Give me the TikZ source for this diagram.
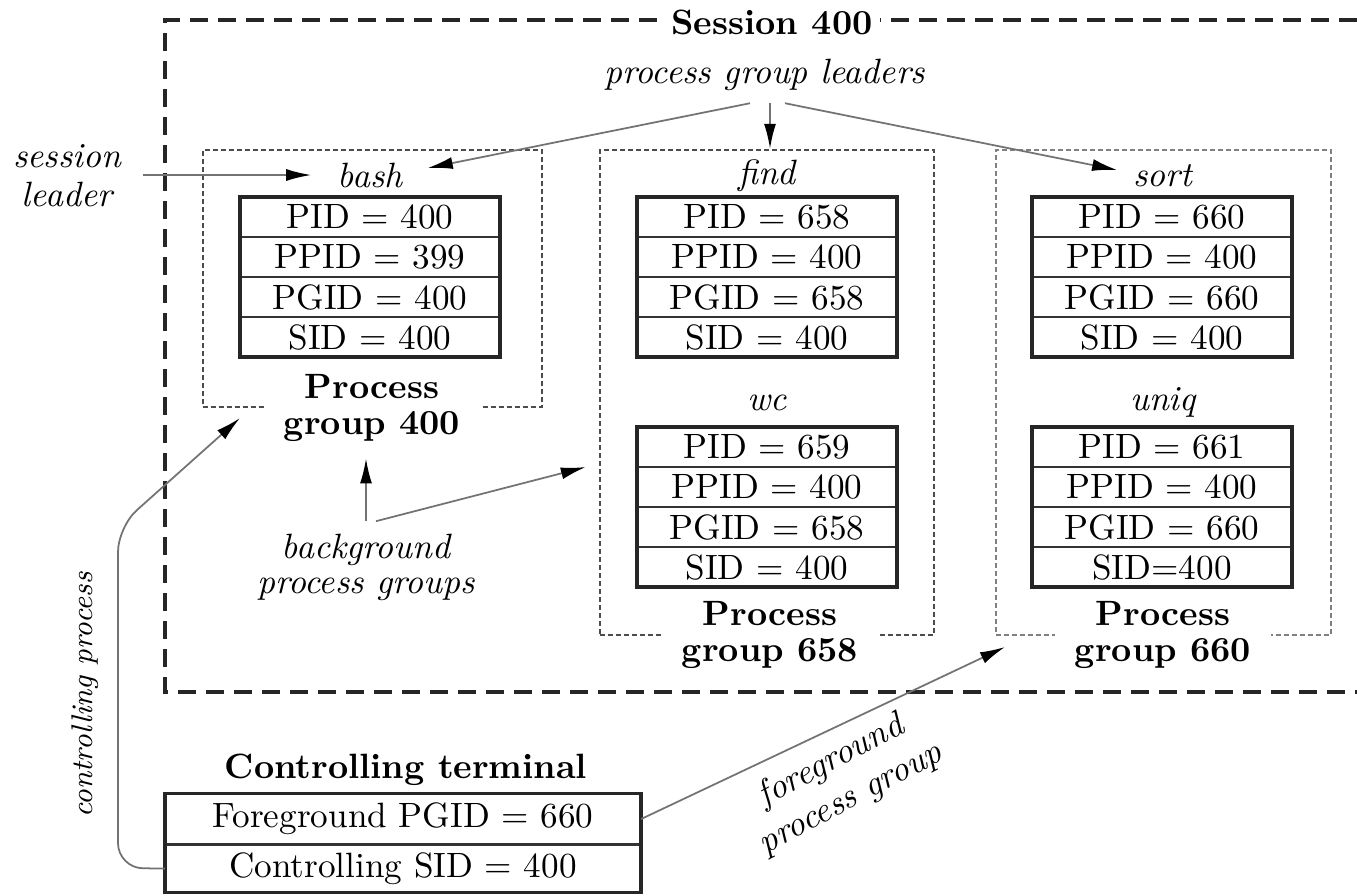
\documentclass[tikz,border=0pt]{standalone}
\usetikzlibrary{positioning,arrows.meta}

\begin{document}
\begin{tikzpicture}[x=0.01cm,y=-0.01cm,
	row/.style={draw=black!80,line width=0.8pt,minimum width=2.6cm,minimum height=0.4cm,inner sep=0pt,outer sep=0pt},
	frame/.style={draw=black!85,line width=1pt},
	group/.style={draw=black!70,line width=0.6pt,dash pattern=on 0.05cm off 0.03cm},
	grouplabel/.style={fill=white,font=\bfseries,align=center,minimum width=2.15cm,inner sep=1pt},
	pname/.style={font=\itshape},
	note/.style={font=\itshape,align=center},
	arr/.style={draw=black!55,line width=0.5pt,-{Latex[length=0.25cm,width=0.12cm,color=black]}}]

		\useasboundingbox (0,0) rectangle (1357,893);

		% session
		\draw[black!85,line width=0.9pt,dash pattern=on 0.18cm off 0.1cm] (1357,20) -- (165,20) -- (165,692) -- (1357,692);
		\node[fill=white,font=\bfseries,inner xsep=2pt] (session) at (772,22) {Session 400};

		% process groups
		\node[group,minimum width=3.39cm,minimum height=2.57cm] (g400) at (372.5,278.5) {};
		\node[group,minimum width=3.34cm,minimum height=4.85cm] (g658) at (767,392.5) {};
		\node[group,draw=black!50,minimum width=3.35cm,minimum height=4.85cm] (g660) at (1163.5,392.5) {};
		\node[grouplabel] (pg400) at (372,408) {Process\\[-2pt]group 400};
		\node[grouplabel] (pg658) at (770,635) {Process\\[-2pt]group 658};
		\node[grouplabel] (pg660) at (1163,635) {Process\\[-2pt]group 660};

		% processes
		\node[pname] (bash) at (370,175) {bash};
		\node[pname] (find) at (767,176) {find};
		\node[pname] (sort) at (1163,176) {sort};
		\node[pname] (wc) at (767,403) {wc};
		\node[pname] (uniq) at (1163,402) {uniq};

		\node[row] (bashpid) at (370,217) {PID = 400};
		\node[row,below=0pt of bashpid] (bashppid) {PPID = 399};
		\node[row,below=0pt of bashppid] (bashpgid) {PGID = 400};
		\node[row,below=0pt of bashpgid] (bashsid) {SID = 400};
		\draw[frame] (bashpid.north west) rectangle (bashsid.south east);

		\node[row] (findpid) at (767,217) {PID = 658};
		\node[row,below=0pt of findpid] (findppid) {PPID = 400};
		\node[row,below=0pt of findppid] (findpgid) {PGID = 658};
		\node[row,below=0pt of findpgid] (findsid) {SID = 400};
		\draw[frame] (findpid.north west) rectangle (findsid.south east);

		\node[row] (sortpid) at (1162,217) {PID = 660};
		\node[row,below=0pt of sortpid] (sortppid) {PPID = 400};
		\node[row,below=0pt of sortppid] (sortpgid) {PGID = 660};
		\node[row,below=0pt of sortpgid] (sortsid) {SID = 400};
		\draw[frame] (sortpid.north west) rectangle (sortsid.south east);

		\node[row] (wcpid) at (767,447) {PID = 659};
		\node[row,below=0pt of wcpid] (wcppid) {PPID = 400};
		\node[row,below=0pt of wcppid] (wcpgid) {PGID = 658};
		\node[row,below=0pt of wcpgid] (wcsid) {SID = 400};
		\draw[frame] (wcpid.north west) rectangle (wcsid.south east);

		\node[row] (uniqpid) at (1162,447) {PID = 661};
		\node[row,below=0pt of uniqpid] (uniqppid) {PPID = 400};
		\node[row,below=0pt of uniqppid] (uniqpgid) {PGID = 660};
		\node[row,below=0pt of uniqpgid] (uniqsid) {SID=400};
		\draw[frame] (uniqpid.north west) rectangle (uniqsid.south east);

		% controlling terminal
		\node[font=\bfseries] (ctlabel) at (406,770) {Controlling terminal};
		\node[row,minimum width=4.76cm,minimum height=0.51cm] (ctfg) at (403,819) {Foreground PGID = 660};
		\node[row,minimum width=4.76cm,minimum height=0.48cm,below=0pt of ctfg] (ctsid) {Controlling SID = 400};
		\draw[frame] (ctfg.north west) rectangle (ctsid.south east);

		% notes
		\node[note] (leaders) at (765,75) {process group leaders};
		\node[note] (sleader) at (67,176) {session\\[-1pt]leader};
		\node[note] (bg) at (366,567) {background\\[-2pt]process groups};
		\node[note,rotate=90,font=\itshape\fontsize{8.5}{10}\selectfont] (cproc) at (85,695) {controlling process};
		\node[note,rotate=28] (fgpg) at (841,780) {foreground\\process group};

		\coordinate (cpend) at (240,418);
		\coordinate (fgend) at (1005,647);

		\draw[arr] ([xshift=-0.15cm]leaders.south) -- ([shift={(0.13cm,0.07cm)}]bash.east);
		\draw[arr] ([xshift=0.05cm]leaders.south) -- ([xshift=0.05cm]leaders.south |- g658.north);
		\draw[arr] ([xshift=0.2cm]leaders.south) -- ([shift={(-0.04cm,0.06cm)}]sort.west);
		\draw[arr] ([xshift=0.1cm]sleader.east |- bash.west) -- ([xshift=-0.14cm]bash.west);
		\draw[arr,shorten >=0.13cm] (bg.north) -- (bg.north |- pg400.south);
		\draw[arr] ([xshift=0.1cm]bg.north) -- ([xshift=-0.13cm]g658.west |- wcpid.south);
		\draw[arr,rounded corners=0.25cm] (ctsid.west) -- (118,868) -- (118,527) -- (cpend);
		\draw[arr] (ctfg.east) -- (fgend);

\end{tikzpicture}
\end{document}
